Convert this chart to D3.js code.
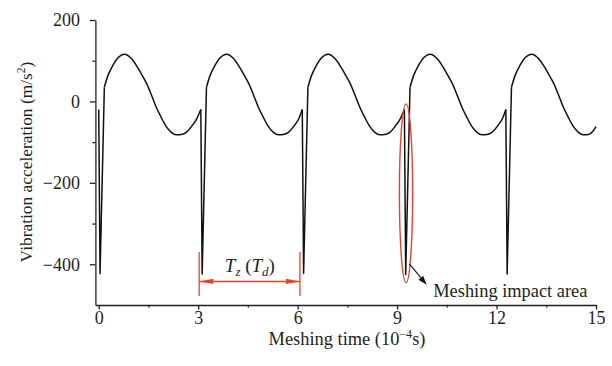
<!DOCTYPE html>
<html><head><meta charset="utf-8">
<script src="https://cdn.jsdelivr.net/npm/d3@7"></script>
<style>
body{margin:0;background:#fff}
svg{display:block}
text{font-family:"Liberation Serif","Times New Roman",serif;fill:#231f20}
</style>
</head><body>
<svg id="c" width="612" height="366"></svg>
<script>
// Meshing time (10^-4 s)
const time = [
  0.00, 0.04, 0.17, 0.28, 0.43, 0.58, 0.78, 0.98, 1.14, 1.29, 1.44, 1.59, 1.74, 1.89, 2.04, 2.19, 2.34, 2.49, 2.64, 2.84, 2.96,
  3.08, 3.12, 3.25, 3.36, 3.51, 3.66, 3.86, 4.06, 4.22, 4.37, 4.52, 4.67, 4.82, 4.97, 5.12, 5.27, 5.42, 5.57, 5.72, 5.92, 6.04,
  6.14, 6.18, 6.31, 6.42, 6.57, 6.72, 6.92, 7.12, 7.28, 7.43, 7.58, 7.73, 7.88, 8.03, 8.18, 8.33, 8.48, 8.63, 8.78, 8.98, 9.10,
  9.22, 9.26, 9.39, 9.50, 9.65, 9.80, 10.00, 10.20, 10.36, 10.51, 10.66, 10.81, 10.96, 11.11, 11.26, 11.41, 11.56, 11.71, 11.86, 12.06, 12.18,
  12.28, 12.32, 12.45, 12.56, 12.71, 12.86, 13.06, 13.26, 13.42, 13.57, 13.72, 13.87, 14.02, 14.17, 14.32, 14.47, 14.62, 14.77, 14.92, 15.00
];
// Vibration acceleration (m/s^2)
const accel = [
  -20, -423, 35, 64, 89, 107, 116, 106, 88, 67, 45, 16, -15, -40, -62, -76, -82, -81, -76, -57, -42,
  -20, -424, 35, 64, 89, 107, 116, 106, 88, 67, 45, 16, -15, -40, -62, -76, -82, -81, -76, -57, -42,
  -20, -422, 35, 64, 89, 107, 116, 106, 88, 67, 45, 16, -15, -40, -62, -76, -82, -81, -76, -57, -42,
  -20, -425, 35, 64, 89, 107, 116, 106, 88, 67, 45, 16, -15, -40, -62, -76, -82, -81, -76, -57, -42,
  -20, -424, 35, 64, 89, 107, 116, 106, 88, 67, 45, 16, -15, -40, -62, -76, -82, -81, -72, -62
];
const xTicks = [0, 3, 6, 9, 12, 15];
const xMinorTicks = [1.5, 4.5, 7.5, 10.5, 13.5];
const yTicks = [-400, -200, 0, 200];
const yMinorTicks = [-300, -100, 100];
const xDomain = [-0.1, 15];
const yDomain = [-500, 200];

// annotations (data coordinates)
const periodStart = 3.03, periodEnd = 6.07;
const periodBar = [-370, -478];
const periodArrowY = -442;
const periodLabelPos = [4.56, -418];
const ellipseT = [9.07, 9.47], ellipseV = [-6, -445];
const impactArrow = [[9.37, -399], [9.89, -450]];
const impactLabelPos = [10.09, -481];
const impactLabel = "Meshing impact area";

const svg = d3.select("#c");
const x = d3.scaleLinear().domain(xDomain).range([95.4, 596]);
const y = d3.scaleLinear().domain(yDomain).range([305, 20]);
const ink = "#231f20", red = "#e8412c";

// axes
svg.append("g").attr("transform", "translate(0,305)")
  .call(d3.axisBottom(x).tickValues(xTicks).tickSize(4.5).tickPadding(2).tickSizeOuter(0).tickFormat(d3.format("d")));
svg.append("g").attr("transform", "translate(0,305)")
  .call(d3.axisBottom(x).tickValues(xMinorTicks).tickSize(2.5).tickFormat("").tickSizeOuter(0))
  .call(g => g.select(".domain").remove());
svg.append("g").attr("transform", "translate(95.4,0)")
  .call(d3.axisLeft(y).tickValues(yTicks).tickSize(5.5).tickPadding(10).tickSizeOuter(0)
    .tickFormat(d => d < 0 ? "\u2212" + Math.abs(d) : d));
svg.append("g").attr("transform", "translate(95.4,0)")
  .call(d3.axisLeft(y).tickValues(yMinorTicks).tickSize(3).tickFormat("").tickSizeOuter(0))
  .call(g => g.select(".domain").remove());
svg.selectAll(".domain, .tick line").attr("stroke", ink).attr("stroke-width", 1.3);
svg.selectAll(".tick text").attr("font-size", 18).attr("fill", ink)
  .style("font-family", '"Liberation Serif", serif');

// data series: spikes straight, rest smooth
const pts = time.map((t, i) => [t, accel[i]]);
const lineLin = d3.line().x(d => x(d[0])).y(d => y(d[1]));
const lineSmooth = d3.line().x(d => x(d[0])).y(d => y(d[1])).curve(d3.curveMonotoneX);
const bottoms = [];
accel.forEach((v, i) => { if (v < -300) bottoms.push(i); });
const g = svg.append("g").attr("fill", "none").attr("stroke", "#111").attr("stroke-width", 1.5)
  .attr("stroke-linejoin", "round");
bottoms.forEach((b, k) => {
  g.append("path").attr("d", lineLin(pts.slice(Math.max(0, b - 1), b + 2)));
  const end = k + 1 < bottoms.length ? bottoms[k + 1] - 1 : pts.length - 1;
  g.append("path").attr("d", lineSmooth(pts.slice(b + 1, end + 1)));
});

// period annotation
const ann = svg.append("g");
[periodStart, periodEnd].forEach(t => {
  ann.append("line").attr("x1", x(t)).attr("x2", x(t)).attr("y1", y(periodBar[0])).attr("y2", y(periodBar[1]))
    .attr("stroke", red).attr("stroke-width", 1.3);
});
const ay = y(periodArrowY);
ann.append("line").attr("x1", x(periodStart)).attr("x2", x(periodEnd)).attr("y1", ay).attr("y2", ay)
  .attr("stroke", red).attr("stroke-width", 1.5);
const hl = 14, hw = 2.6;
ann.append("path").attr("fill", red)
  .attr("d", `M${x(periodStart)},${ay} L${x(periodStart)+hl},${ay-hw} L${x(periodStart)+hl},${ay+hw} Z`);
ann.append("path").attr("fill", red)
  .attr("d", `M${x(periodEnd)},${ay} L${x(periodEnd)-hl},${ay-hw} L${x(periodEnd)-hl},${ay+hw} Z`);
const tl = ann.append("text").attr("x", x(periodLabelPos[0])).attr("y", y(periodLabelPos[1]))
  .attr("text-anchor", "middle").attr("font-size", 19);
tl.append("tspan").attr("font-style", "italic").text("T");
tl.append("tspan").attr("font-style", "italic").attr("font-size", 13).attr("dy", 4).text("z");
tl.append("tspan").attr("dy", -4).text(" (");
tl.append("tspan").attr("font-style", "italic").text("T");
tl.append("tspan").attr("font-style", "italic").attr("font-size", 13).attr("dy", 4).text("d");
tl.append("tspan").attr("dy", -4).text(")");

// impact ellipse
svg.append("ellipse")
  .attr("cx", (x(ellipseT[0]) + x(ellipseT[1])) / 2).attr("cy", (y(ellipseV[0]) + y(ellipseV[1])) / 2)
  .attr("rx", (x(ellipseT[1]) - x(ellipseT[0])) / 2).attr("ry", (y(ellipseV[1]) - y(ellipseV[0])) / 2)
  .attr("fill", "none").attr("stroke", red).attr("stroke-width", 1.4);
// impact arrow
const [p0, p1] = impactArrow.map(d => [x(d[0]), y(d[1])]);
const ang = Math.atan2(p1[1] - p0[1], p1[0] - p0[0]);
const al = 9, aw = 3;
const bx = p1[0] - al * Math.cos(ang), by = p1[1] - al * Math.sin(ang);
svg.append("line").attr("x1", p0[0]).attr("y1", p0[1]).attr("x2", bx).attr("y2", by)
  .attr("stroke", "#111").attr("stroke-width", 1.1);
svg.append("path").attr("fill", "#111")
  .attr("d", `M${p1[0]},${p1[1]} L${bx + aw*Math.sin(ang)},${by - aw*Math.cos(ang)} L${bx - aw*Math.sin(ang)},${by + aw*Math.cos(ang)} Z`);
svg.append("text").attr("x", x(impactLabelPos[0])).attr("y", y(impactLabelPos[1]))
  .attr("font-size", 18.4).text(impactLabel);

// axis titles
const xt = svg.append("text").attr("x", 347).attr("y", 345).attr("text-anchor", "middle").attr("font-size", 18.4);
xt.append("tspan").text("Meshing time (10");
xt.append("tspan").attr("font-size", 12).attr("dy", -7).text("\u22124");
xt.append("tspan").attr("dy", 7).text("s)");
const yt = svg.append("text").attr("transform", "translate(32,162) rotate(-90)").attr("text-anchor", "middle").attr("font-size", 17.4);
yt.append("tspan").text("Vibration acceleration (m/s");
yt.append("tspan").attr("font-size", 11.5).attr("dy", -7).text("2");
yt.append("tspan").attr("dy", 7).text(")");
</script>
</body></html>
